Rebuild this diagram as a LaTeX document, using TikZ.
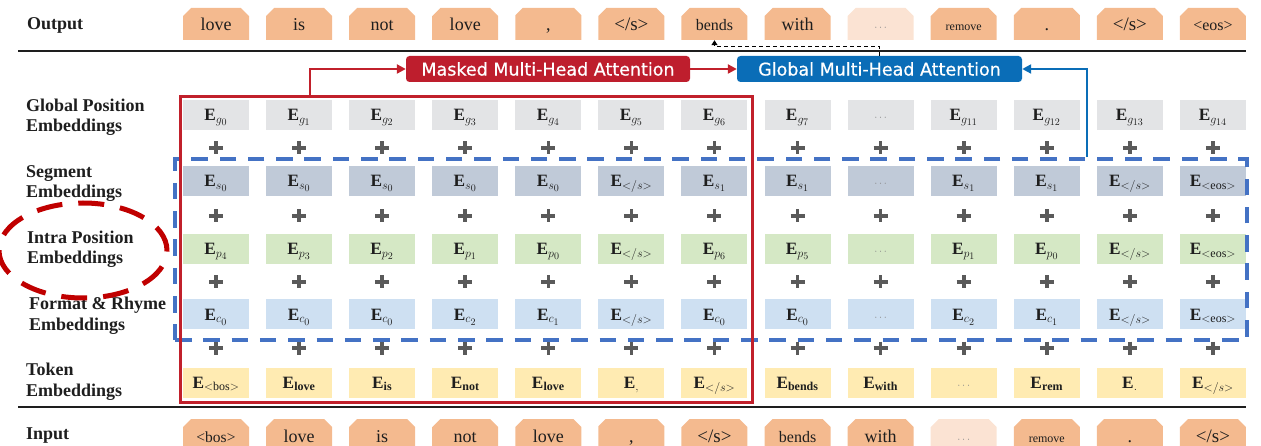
\documentclass[tikz,border=0pt]{standalone}
\usepackage{fontspec}
\setmainfont{Liberation Serif}
\newfontfamily\attfont[FakeBold=0.6]{DejaVu Sans}
\DeclareMathSizes{17}{17.28}{12}{10}
\usetikzlibrary{shapes.misc,shapes.geometric,arrows.meta}
\definecolor{outc}{HTML}{F4BA8F}
\definecolor{outl}{HTML}{FBE3D3}
\definecolor{gc}{HTML}{E3E4E6}
\definecolor{sc}{HTML}{C0CAD8}
\definecolor{pc}{HTML}{D5E8C5}
\definecolor{cc}{HTML}{CEE0F2}
\definecolor{tc}{HTML}{FFEBB2}
\definecolor{redc}{HTML}{C1202B}
\definecolor{redf}{HTML}{BE1E2D}
\definecolor{bluef}{HTML}{0A6DB7}
\definecolor{blued}{HTML}{4472C4}
\definecolor{ellc}{HTML}{C00000}
\definecolor{plusc}{HTML}{5A5A5A}
\definecolor{dotc}{HTML}{8A8A8A}
\definecolor{txt}{HTML}{1E1E1E}
\newcommand{\Emb}[1]{$\mathbf{E}_{#1}$}
\newcommand{\dd}{{\color{dotc}\fontsize{11}{12}\selectfont$\cdots$}}
\newcommand{\fs}[1]{\fontsize{#1}{#1}\selectfont}
\begin{document}
\begin{tikzpicture}[x=1pt,y=-1pt,
  lab/.style={anchor=west, align=left, inner sep=0pt, font=\bfseries\fontsize{18}{20.5}\selectfont, text=txt},
  cell/.style={minimum width=66pt, minimum height=30pt, inner sep=0pt, text height=15pt, text depth=3.3pt, font=\fontsize{17}{20}\selectfont, text=txt},
  tokbox/.style={chamfered rectangle, chamfered rectangle corners={north west,north east}, chamfered rectangle xsep=5pt, minimum width=66pt, minimum height=32pt, inner sep=0pt, text height=13.5pt, text depth=0pt, text=txt, font=\fontsize{18}{20}\selectfont},
  attn/.style={rounded corners=3.5pt, minimum width=284pt, minimum height=26pt, inner sep=0pt, text=white, font=\attfont\fontsize{17.5}{20}\selectfont},
  plusl/.style={draw=plusc, line width=3.6pt},
  hline/.style={draw=txt, line width=2pt},
  redarr/.style={draw=redc, line width=2.5pt, -{Triangle[length=9pt,width=9pt]}},
  bluearr/.style={draw=bluef, line width=2.5pt, -{Triangle[length=9pt,width=9pt]}},
  dasharr/.style={draw=black, line width=1.1pt, dash pattern=on 4pt off 3pt, -{Triangle[length=5pt,width=6pt]}}
]
\useasboundingbox (0,0) rectangle (1261,446);
\clip (0,0) rectangle (1261,446);

% row labels
\node[lab] (lout) at (27,25) {Output};
\node[lab] (lg) at (26,117) {Global Position\\Embeddings};
\node[lab] (ls) at (26,183.5) {Segment\\Embeddings};
\node[lab] (lp) at (27,249) {Intra Position\\Embeddings};
\node[lab] (lc) at (29,315.5) {Format \& Rhyme\\Embeddings};
\node[lab] (lt) at (26,381.5) {Token\\Embeddings};
\node[lab] (lin) at (26,436) {Input};

% separator lines
\draw[hline] (18,51) -- (1246,51);
\draw[hline] (18,407) -- (1246,407);

% output tokens
\foreach \t [count=\j from 0] in {love,is,not,love,{,},{\fs{19}</s>},{\fs{16}bends},with,\dd,{\fs{12}remove},.,{\fs{19}</s>},{\fs{16}<eos>}}{
  \ifnum\j=8 \def\ff{outl}\else\def\ff{outc}\fi
  \node[tokbox, fill=\ff] (out\j) at ({216+83.08*\j},24) {\t};
}
% input tokens
\foreach \t [count=\j from 0] in {{\fs{15.5}<bos>},love,is,not,love,{,},{\fs{19}</s>},{\fs{16}bends},with,\dd,{\fs{12}remove},.,{\fs{19}</s>}}{
  \ifnum\j=9 \def\ff{outl}\else\def\ff{outc}\fi
  \node[tokbox, fill=\ff, minimum height=34pt] (in\j) at ({216+83.08*\j},436) {\t};
}

% embedding cells
\foreach \t [count=\j from 0] in {{\Emb{g_0}},{\Emb{g_1}},{\Emb{g_2}},{\Emb{g_3}},{\Emb{g_4}},{\Emb{g_5}},{\Emb{g_6}},{\Emb{g_7}},{\dd},{\Emb{g_{11}}},{\Emb{g_{12}}},{\Emb{g_{13}}},{\Emb{g_{14}}}}
  \node[cell, fill=gc] (g\j) at ({216+83.08*\j},115) {\t};
\foreach \t [count=\j from 0] in {{\Emb{s_0}},{\Emb{s_0}},{\Emb{s_0}},{\Emb{s_0}},{\Emb{s_0}},{\Emb{</s>}},{\Emb{s_1}},{\Emb{s_1}},{\dd},{\Emb{s_1}},{\Emb{s_1}},{\Emb{</s>}},{\Emb{<\mathrm{eos}>}}}
  \node[cell, fill=sc] (s\j) at ({216+83.08*\j},181) {\t};
\foreach \t [count=\j from 0] in {{\Emb{p_4}},{\Emb{p_3}},{\Emb{p_2}},{\Emb{p_1}},{\Emb{p_0}},{\Emb{</s>}},{\Emb{p_6}},{\Emb{p_5}},{\dd},{\Emb{p_1}},{\Emb{p_0}},{\Emb{</s>}},{\Emb{<\mathrm{eos}>}}}
  \node[cell, fill=pc] (p\j) at ({216+83.08*\j},249) {\t};
\foreach \t [count=\j from 0] in {{\Emb{c_0}},{\Emb{c_0}},{\Emb{c_0}},{\Emb{c_2}},{\Emb{c_1}},{\Emb{</s>}},{\Emb{c_0}},{\Emb{c_0}},{\dd},{\Emb{c_2}},{\Emb{c_1}},{\Emb{</s>}},{\Emb{<\mathrm{eos}>}}}
  \node[cell, fill=cc] (c\j) at ({216+83.08*\j},314.5) {\t};
\foreach \t [count=\j from 0] in {{\Emb{<\mathrm{bos}>}},{\Emb{\mathbf{love}}},{\Emb{\mathbf{is}}},{\Emb{\mathbf{not}}},{\Emb{\mathbf{love}}},{\Emb{,}},{\Emb{</s>}},{\Emb{\mathbf{bends}}},{\Emb{\mathbf{with}}},{\dd},{\Emb{\mathbf{rem}}},{\Emb{.}},{\Emb{</s>}}}
  \node[cell, fill=tc] (t\j) at ({216+83.08*\j},382.5) {\t};

% plus signs
\foreach \yy in {148,216,282,348}
  \foreach \i in {0,...,12}
    \draw[plusl] ({216+83.08*\i-7},\yy) -- ++(14,0) ({216+83.08*\i},{\yy-6.5}) -- ++(0,13);

% grouping boxes
\node[draw=blued, line width=3.5pt, dash pattern=on 16.5pt off 11.8pt, minimum width=1072pt, minimum height=181pt, inner sep=0pt] (bluebox) at (711,249.5) {};
\node[draw=redc, line width=3pt, minimum width=572pt, minimum height=305pt, inner sep=0pt] (redbox) at (466,249.5) {};

% attention blocks
\node[attn, fill=redf] (masked) at (548,69) {Masked Multi-Head Attention};
\node[attn, fill=bluef, minimum width=285pt] (global) at (879.5,69) {Global Multi-Head Attention};

% connectors
\draw[redarr] ([xshift=-156pt]redbox.north) |- (masked.west);
\draw[redarr] (masked.east) -- (global.west);
\draw[bluearr] ([xshift=376pt]bluebox.north) |- (global.east);
\draw[dasharr] (global.north) -- ++(0,-9) -| (out6.south);

% highlight ellipse
\node[ellipse, draw=ellc, line width=5pt, dash pattern=on 26pt off 16pt, minimum width=168pt, minimum height=95pt, inner sep=0pt] (ell) at (83,250.5) {};
\end{tikzpicture}
\end{document}
